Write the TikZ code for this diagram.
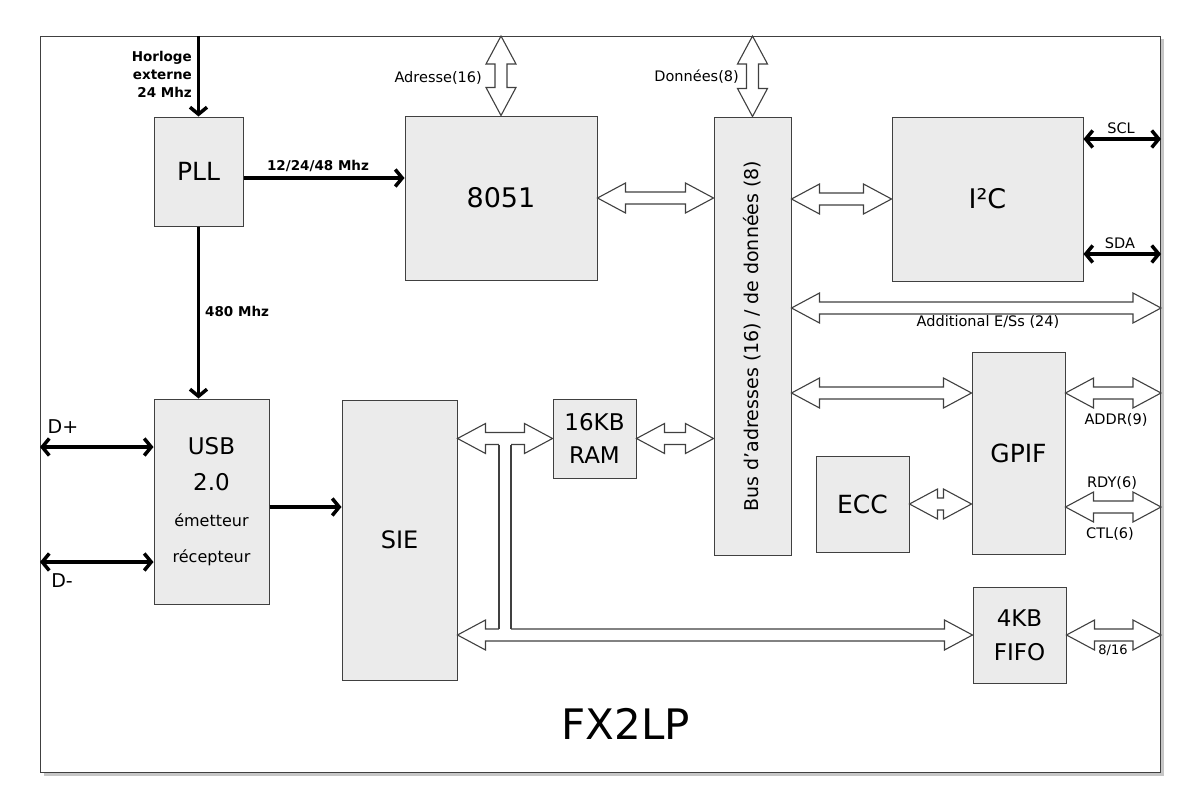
\documentclass[tikz,border=0pt]{standalone}
\usepackage{fontspec}
\setmainfont{DejaVu Sans}
\usetikzlibrary{arrows.meta,calc,shadows}

\tikzset{
  blk/.style={draw=black!75, fill=black!8, line width=1pt},
  sig/.style={line width=3.5pt, -{Straight Barb[length=7pt,width=17pt]}},
  sigboth/.style={line width=3.5pt, {Straight Barb[length=7pt,width=17pt]}-{Straight Barb[length=7pt,width=17pt]}},
  fat/.style={draw=black!75, fill=white, line width=1.1pt, line join=miter,
    to path={
      -- ($(\tikztostart)!28pt!(\tikztotarget)!15pt!90:(\tikztotarget)$)
      -- ($(\tikztostart)!28pt!(\tikztotarget)!6pt!90:(\tikztotarget)$)
      -- ($(\tikztotarget)!28pt!(\tikztostart)!6pt!-90:(\tikztostart)$)
      -- ($(\tikztotarget)!28pt!(\tikztostart)!15pt!-90:(\tikztostart)$)
      -- (\tikztotarget)
      -- ($(\tikztotarget)!28pt!(\tikztostart)!15pt!90:(\tikztostart)$)
      -- ($(\tikztotarget)!28pt!(\tikztostart)!6pt!90:(\tikztostart)$)
      -- ($(\tikztostart)!28pt!(\tikztotarget)!6pt!-90:(\tikztotarget)$)
      -- ($(\tikztostart)!28pt!(\tikztotarget)!15pt!-90:(\tikztotarget)$)
      -- cycle}},
  lbl/.style={font=\fontsize{14.5}{17}\selectfont, inner sep=1pt},
  blbl/.style={font=\fontsize{13.5}{18}\selectfont\bfseries, inner sep=1pt},
}

\begin{document}
\begin{tikzpicture}[x=1pt, y=-1pt]
  \useasboundingbox (0,0) rectangle (1200,808);

  % chip outline
  \node[draw=black!75, line width=1pt, fill=white, minimum width=1120pt, minimum height=736pt, anchor=north west, inner sep=0pt,
        drop shadow={shadow xshift=3pt, shadow yshift=-3pt, opacity=0.45}] (chip) at (40,36) {};

  % blocks
  \node[blk, minimum width=89pt,  minimum height=109pt, font=\fontsize{25}{30}\selectfont] (pll)  at (198.5,171.5) {PLL};
  \node[blk, minimum width=192pt, minimum height=164pt, font=\fontsize{27}{30}\selectfont] (cpu)  at (501,198)     {8051};
  \node[blk, minimum width=115pt, minimum height=205pt, align=center, font=\fontsize{23}{36}\selectfont] (usb) at (211.5,501.5)
       {USB\\2.0\\{\fontsize{16}{36}\selectfont émetteur}\\{\fontsize{16}{36}\selectfont récepteur}};
  \node[blk, minimum width=115pt, minimum height=280pt, font=\fontsize{24}{30}\selectfont] (sie)  at (399.5,540)   {SIE};
  \node[blk, minimum width=83pt,  minimum height=79pt, align=center, font=\fontsize{23}{33}\selectfont] (ram) at (594.5,438.5) {16KB\\RAM};
  \node[blk, minimum width=77pt,  minimum height=438pt] (bus)  at (752.5,336) {};
  \node[rotate=90, font=\fontsize{19}{22}\selectfont] (buslbl) at (bus.center) {Bus d’adresses (16) / de données (8)};
  \node[blk, minimum width=191pt, minimum height=164pt, font=\fontsize{27}{30}\selectfont] (i2c)  at (987.5,199)   {I²C};
  \node[blk, minimum width=93pt,  minimum height=202pt, font=\fontsize{25}{30}\selectfont] (gpif) at (1018.5,453)  {GPIF};
  \node[blk, minimum width=93pt,  minimum height=96pt,  font=\fontsize{25}{30}\selectfont] (ecc)  at (862.5,504)   {ECC};
  \node[blk, minimum width=93pt,  minimum height=96pt, align=center, font=\fontsize{23}{34}\selectfont] (fifo) at (1019.5,635) {4KB\\FIFO};

  % rows
  \coordinate (clk) at (0,178);
  \coordinate (dp)  at (0,447);
  \coordinate (dm)  at (0,562);
  \coordinate (ser) at (0,507);
  \coordinate (scl) at (0,139);
  \coordinate (sda) at (0,254);
  \coordinate (ext) at (0,308);
  \coordinate (gp)  at (0,393);
  \coordinate (tee) at ($(sie.east)!0.5!(ram.west)$);

  % clocks and USB lines
  \draw[sig] (pll.north |- chip.north) -- (pll.north);
  \draw[sig] (pll.east |- clk) -- (cpu.west |- clk);
  \draw[sig] (pll.south) -- (usb.north -| pll.south);
  \draw[sigboth] (chip.west |- dp) -- (usb.west |- dp);
  \draw[sigboth] (chip.west |- dm) -- (usb.west |- dm);
  \draw[sig] (usb.east |- ser) -- (sie.west |- ser);
  \draw[sigboth] (i2c.east |- scl) -- (chip.east |- scl);
  \draw[sigboth] (i2c.east |- sda) -- (chip.east |- sda);

  % buses
  \draw[fat] (cpu.north |- chip.north) to (cpu.north);
  \draw[fat] (bus.north |- chip.north) to (bus.north);
  \draw[fat] (cpu.east) to (bus.west |- cpu.east);
  \draw[fat] (bus.east |- i2c.west) to (i2c.west);
  \draw[fat] (bus.east |- ext) to (chip.east |- ext);
  \draw[fat] (bus.east |- gp) to (gpif.west |- gp);
  \draw[fat] (gpif.east |- gp) to (chip.east |- gp);
  \draw[fat] (ram.east) to (bus.west |- ram.east);
  \draw[fat] (ecc.east) to (gpif.west |- ecc.east);
  \draw[fat] (gpif.east |- ser) to (chip.east |- ser);
  \draw[fat] (sie.east |- ram.west) to (ram.west);
  \draw[fat] (sie.east |- fifo.west) to (fifo.west);
  \draw[fat] (fifo.east) to (chip.east |- fifo.east);
  % branch of the SIE bus
  \fill[white] ($(tee |- ram.west)+(-6,0)$) rectangle ($(tee |- fifo.west)+(6,0)$);
  \draw[black!75, line width=1.1pt] ($(tee |- ram.west)+(-6,6)$) -- ($(tee |- fifo.west)+(-6,-6)$);
  \draw[black!75, line width=1.1pt] ($(tee |- ram.west)+(6,6)$) -- ($(tee |- fifo.west)+(6,-6)$);

  % labels
  \node[blbl, align=right, anchor=east] (clklbl) at (193,74) {Horloge\\externe\\24 Mhz};
  \node[blbl] (pclbl) at (318,166) {12/24/48 Mhz};
  \node[blbl, anchor=west] (hslbl) at (204,311) {480 Mhz};
  \node[lbl, anchor=east] (adrlbl) at (483,78) {Adresse(16)};
  \node[lbl, anchor=east] (datlbl) at (740,77) {Données(8)};
  \node[lbl] (scllbl) at (1121,128) {SCL};
  \node[lbl] (sdalbl) at (1120,243) {SDA};
  \node[lbl] (extlbl) at (988,322) {Additional E/Ss (24)};
  \node[lbl] (adrlbl9) at (1116,420) {ADDR(9)};
  \node[lbl] (rdylbl) at (1112,483) {RDY(6)};
  \node[lbl] (ctllbl) at (1110,534) {CTL(6)};
  \node[lbl, fill=white, font=\fontsize{13}{14}\selectfont, inner sep=0.5pt] (wlbl) at (1113,650) {8/16};
  \node[font=\fontsize{19}{22}\selectfont] (dplbl) at (63,427) {D+};
  \node[font=\fontsize{19}{22}\selectfont] (dmlbl) at (62,581) {D-};
  \node[font=\fontsize{42}{48}\selectfont] (title) at (626,724) {FX2LP};
\end{tikzpicture}
\end{document}
